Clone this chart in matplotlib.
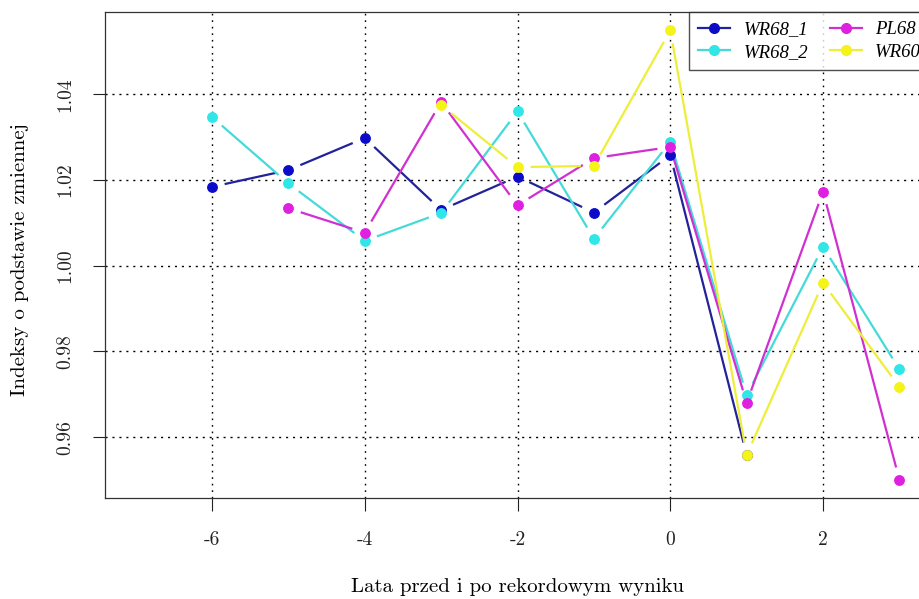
import numpy as np
import matplotlib
matplotlib.use("Agg")
import matplotlib.pyplot as plt
from matplotlib.lines import Line2D
from matplotlib.font_manager import FontProperties

plt.rcParams["font.family"] = ["cmr10", "DejaVu Serif"]
plt.rcParams["mathtext.fontset"] = "cm"
plt.rcParams["axes.formatter.use_mathtext"] = True

# lata względem rekordu i indeksy dla każdej serii (nan = brak danych)
years = [-6, -5, -4, -3, -2, -1, 0, 1, 2, 3]
wr68_1 = [1.0184, 1.0223, 1.0298, 1.0130, 1.0208, 1.0124, 1.0258, 0.9558, np.nan, np.nan]
wr68_2 = [1.0347, 1.0192, 1.0058, 1.0123, 1.0360, 1.0063, 1.0289, 0.9698, 1.0044, 0.9758]
pl68 = [np.nan, 1.0134, 1.0077, 1.0382, 1.0141, 1.0251, 1.0277, 0.9680, 1.0173, 0.9500]
wr60 = [np.nan, np.nan, np.nan, 1.0375, 1.0230, 1.0233, 1.0549, 0.9558, 0.9960, 0.9717]

series_names = ["WR68_1", "WR68_2", "PL68", "WR60"]
line_colors = ["#22229a", "#45dada", "#d030d0", "#eeee3a"]
point_colors = ["#0c0cc8", "#30e6e6", "#e020e0", "#f4f418"]

x_ticks = [-6, -4, -2, 0, 2]
x_tick_labels = ["-6", "-4", "-2", "0", "2"]
y_ticks = [0.96, 0.98, 1.00, 1.02, 1.04]
y_tick_labels = ["0.96", "0.98", "1.00", "1.02", "1.04"]

W, H = 920, 599
fig = plt.figure(figsize=(W / 100, H / 100), dpi=100)
ax = fig.add_axes([105 / W, 101 / H, 825 / W, 486 / H])
ax.set_xlim(-7.4, 3.4)
ax.set_ylim(0.9458, 1.0592)


def draw_gapped(ax, xs, ys, color, gap=13):
    """Odcinki między punktami z przerwą wokół punktów (jak type='b' w R)."""
    pts = ax.transData.transform(np.column_stack([xs, ys]))
    inv = ax.transData.inverted()
    for i in range(len(pts) - 1):
        p0, p1 = pts[i], pts[i + 1]
        if np.isnan(p0).any() or np.isnan(p1).any():
            continue
        d = np.hypot(*(p1 - p0))
        if d <= 2 * gap:
            continue
        u = (p1 - p0) / d
        seg = inv.transform(np.array([p0 + u * gap, p1 - u * gap]))
        ax.plot(seg[:, 0], seg[:, 1], color=color, lw=1.6,
                solid_capstyle="butt", zorder=3)


for vals, lc in zip([wr68_1, wr68_2, pl68, wr60], line_colors):
    draw_gapped(ax, years, vals, lc)
for vals, pc in zip([wr68_1, wr68_2, pl68, wr60], point_colors):
    ax.plot(years, vals, ls="none", marker="o", ms=6.8, color=pc,
            mec=pc, zorder=4)

# siatka kropkowana
for xt in x_ticks:
    ax.axvline(xt, color="black", lw=1.0, ls=(0, (1.2, 3.5)), zorder=1)
for yt in y_ticks:
    ax.axhline(yt, color="black", lw=1.0, ls=(0, (1.5, 3.5)), zorder=1)

ax.set_xticks(x_ticks)
ax.set_xticklabels(x_tick_labels)
ax.set_yticks(y_ticks)
ax.set_yticklabels(y_tick_labels, rotation=90, va="center")
ax.tick_params(axis="both", direction="out", length=9, width=0.8,
               labelsize=14, colors="#222222")
ax.tick_params(axis="x", pad=15)
ax.tick_params(axis="y", pad=13)
for sp in ax.spines.values():
    sp.set_color("#333333")
    sp.set_linewidth(0.9)

ax.set_xlabel("Lata przed i po rekordowym wyniku", fontsize=15)
ax.xaxis.set_label_coords(0.5, -0.183)
ax.xaxis.label.set_va("center")
ax.set_ylabel("Indeksy o podstawie zmiennej", fontsize=15)
ax.yaxis.set_label_coords(-0.103, 0.49)
ax.yaxis.label.set_va("center")

handles = [Line2D([], [], color=lc, lw=1.6, marker="o", ms=7,
                  mfc=pc, mec=pc)
           for lc, pc in zip(line_colors, point_colors)]
legend_font = FontProperties(family=["Liberation Serif"], style="italic",
                             size=13.5)
# legenda rozciągnięta od x=689 px do prawej krawędzi obszaru wykresu
leg_box = (689 / W, 1 - 71 / H, (930 - 689) / W, 59 / H)
leg = ax.legend(handles, series_names, loc="upper left",
                bbox_to_anchor=leg_box, bbox_transform=fig.transFigure,
                mode="expand", ncol=2, prop=legend_font,
                frameon=True, fancybox=False, borderaxespad=0,
                handlelength=1.7, columnspacing=0.4, labelspacing=0.28,
                borderpad=0.5, handletextpad=0.7)
leg.get_frame().set_edgecolor("#222222")
leg.get_frame().set_linewidth(1.0)
leg.set_zorder(5)

fig.savefig("out.png", dpi=100)
